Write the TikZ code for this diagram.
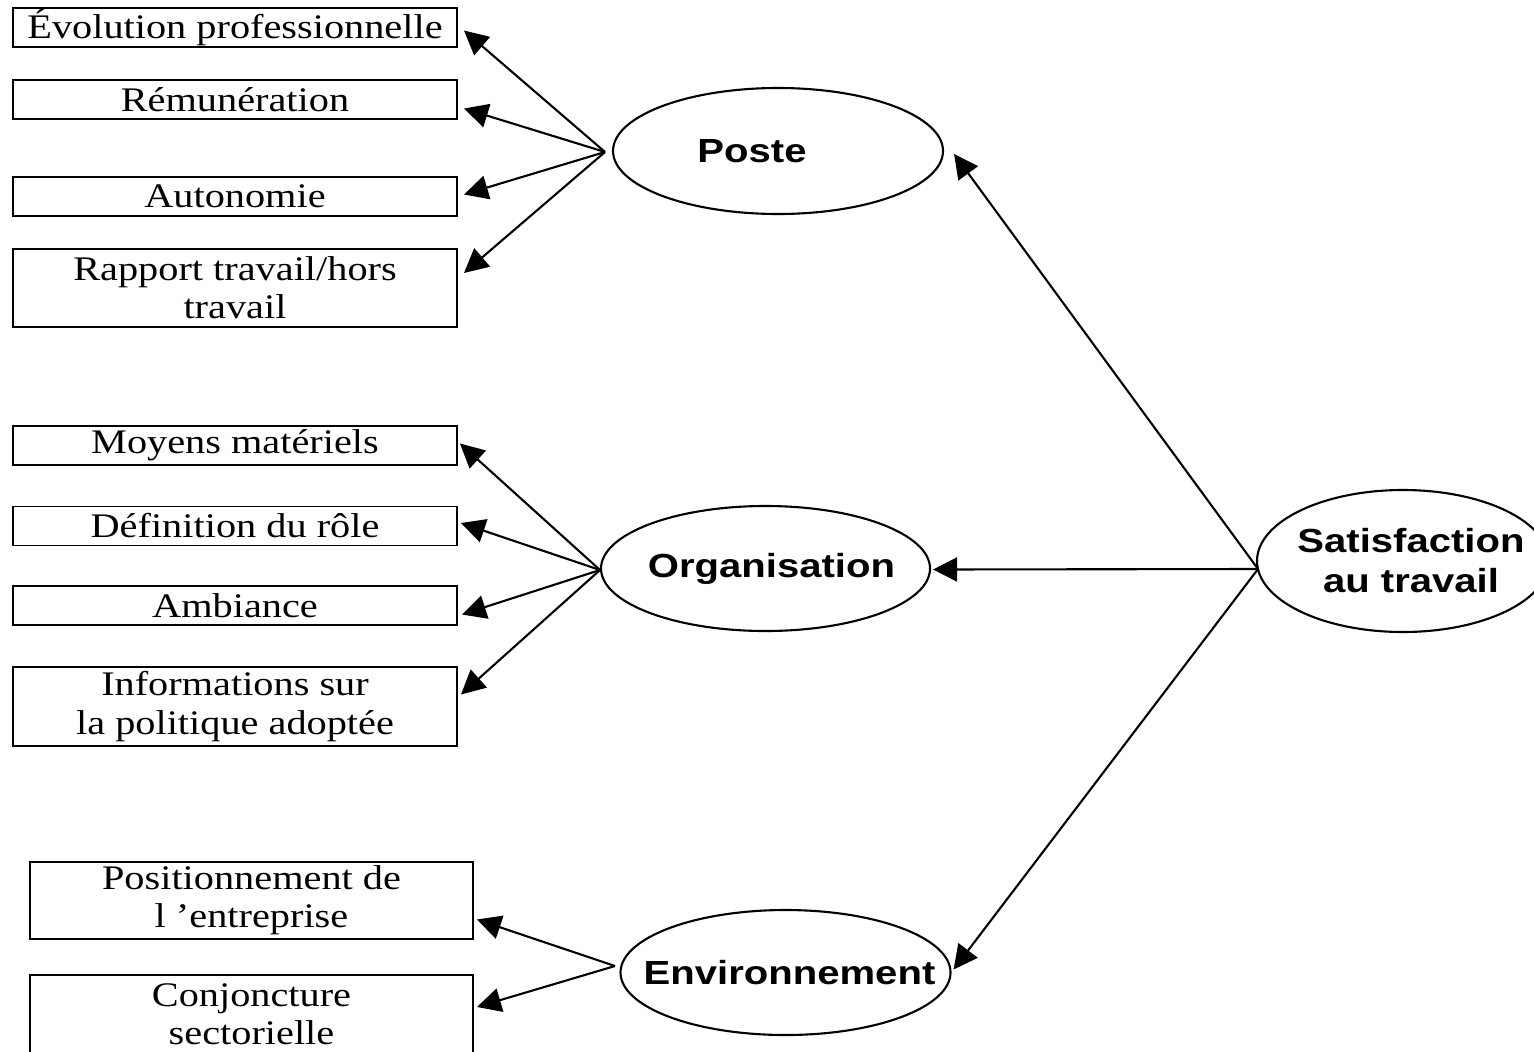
\documentclass[tikz,border=0pt]{standalone}
\usepackage{fontspec}
\setmainfont{Liberation Serif}[FakeStretch=1.17]
\setsansfont{Liberation Sans}[FakeStretch=1.2]
\usetikzlibrary{shapes.geometric,arrows.meta}

\begin{document}
\begin{tikzpicture}[
  case/.style={draw, line width=0.55pt, minimum width=4.44cm, minimum height=0.39cm, inner sep=0pt, align=center,
    font=\fontsize{9.8}{10.9}\selectfont},
  bulle/.style={draw, ellipse, line width=0.6pt, inner sep=0pt,
    font=\fontsize{9.5}{11.1}\selectfont\sffamily\bfseries},
  fleche/.style={line width=0.6pt, -{Triangle[length=0.24cm, width=0.24cm]}}
 ]
 \useasboundingbox (0,0) rectangle (15.34,-10.51);

 \draw (2.35,-0.275) node[case] (evolution) {Évolution professionnelle};
 \draw (2.35,-0.995) node[case] (remuneration) {Rémunération};
 \draw (2.35,-1.965) node[case] (autonomie) {Autonomie};
 \draw (2.35,-2.88) node[case, minimum height=0.78cm] (rapport) {Rapport travail/hors\\travail};

 \draw (2.35,-4.455) node[case] (moyens) {Moyens matériels};
 \draw (2.35,-5.26) node[case] (definition) {Définition du rôle};
 \draw (2.35,-6.055) node[case] (ambiance) {Ambiance};
 \draw (2.35,-7.065) node[case, minimum height=0.79cm] (informations) {Informations sur\\la politique adoptée};

 \draw (2.515,-9.005) node[case, minimum width=4.43cm, minimum height=0.77cm] (positionnement) {Positionnement de\\l ’entreprise};
 \draw (2.515,-10.14) node[case, minimum width=4.43cm, minimum height=0.78cm] (conjoncture) {Conjoncture\\sectorielle};

 \draw (7.78,-1.51) node[bulle, minimum width=3.30cm, minimum height=1.26cm] (poste) {\makebox[0pt]{\hspace*{-0.52cm}Poste}};
 \draw (7.655,-5.685) node[bulle, minimum width=3.29cm, minimum height=1.25cm] (organisation) {\makebox[0pt]{\hspace*{0.12cm}Organisation}};
 \draw (7.855,-9.725) node[bulle, minimum width=3.30cm, minimum height=1.25cm] (environnement) {\makebox[0pt]{\hspace*{0.08cm}Environnement}};
 \draw (14.03,-5.61) node[bulle, minimum width=2.92cm, minimum height=1.42cm] (satisfaction) {\makebox[0pt]{\hspace*{0.16cm}\shortstack{Satisfaction\\[0.05cm]au travail}}};

 \coordinate (p0) at (6.05,-1.52);
 \coordinate (o0) at (6.00,-5.70);
 \coordinate (e0) at (6.15,-9.66);
 \coordinate (s0) at (12.58,-5.69);

 \draw[fleche] (p0) -- ([xshift=0.06cm, yshift=-0.03cm]evolution.east);
 \draw[fleche] (p0) -- ([xshift=0.06cm, yshift=-0.09cm]remuneration.east);
 \draw[fleche] (p0) -- ([xshift=0.06cm, yshift=0.02cm]autonomie.east);
 \draw[fleche] (p0) -- ([xshift=0.06cm, yshift=0.15cm]rapport.east);

 \draw[fleche] (o0) -- ([xshift=0.02cm, yshift=0.02cm]moyens.east);
 \draw[fleche] (o0) -- ([xshift=0.03cm, yshift=0.03cm]definition.east);
 \draw[fleche] (o0) -- ([xshift=0.04cm, yshift=-0.09cm]ambiance.east);
 \draw[fleche] (o0) -- ([xshift=0.03cm, yshift=0.12cm]informations.east);

 \draw[fleche] (e0) -- ([xshift=0.03cm, yshift=-0.19cm]positionnement.east);
 \draw[fleche] (e0) -- ([xshift=0.03cm, yshift=0.07cm]conjoncture.east);

 \draw[fleche] (s0) -- ([xshift=0.10cm, yshift=-0.03cm]poste.east);
 \draw[fleche] (s0) -- ([xshift=0.02cm, yshift=-0.01cm]organisation.east);
 \draw[fleche] (s0) -- ([xshift=0.02cm, yshift=0.03cm]environnement.east);
\end{tikzpicture}
\end{document}
